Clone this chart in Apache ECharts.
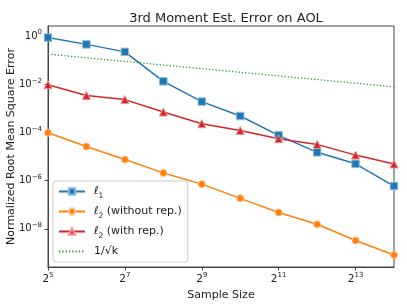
<!DOCTYPE html>
<html>
<head>
<meta charset="utf-8">
<script src="https://cdn.jsdelivr.net/npm/echarts@6/dist/echarts.min.js"></script>
<style>html,body{margin:0;padding:0;background:#fff;}#c{width:407px;height:305px;}</style>
</head>
<body>
<div id="c"></div>
<script>
const sampleSizes = [32, 64, 128, 256, 512, 1024, 2048, 4096, 8192, 16384];
const l1Err = [0.86, 0.45, 0.22, 0.0132, 0.0019, 4.8e-4, 7.6e-5, 1.5e-5, 5.0e-6, 6.0e-7];
const l2WithoutRep = [9.7e-5, 2.6e-5, 7.5e-6, 2.1e-6, 7.2e-7, 1.85e-7, 4.8e-8, 1.55e-8, 3.3e-9, 8.3e-10];
const l2WithRep = [9.6e-3, 3.4e-3, 2.3e-3, 7.0e-4, 2.3e-4, 1.2e-4, 5.5e-5, 3.2e-5, 1.15e-5, 4.9e-6];
const invSqrtK = [0.177, 0.125, 0.0884, 0.0625, 0.0442, 0.0313, 0.0221, 0.0156, 0.011, 0.0078];
const seriesNames = ['ℓ1', 'ℓ2 (without rep.)', 'ℓ2 (with rep.)', '1/√k'];
const xTicks = [32, 128, 512, 2048, 8192];
const yTicks = [1e-8, 1e-6, 1e-4, 1e-2, 1];

const FONT = 'DejaVu Sans';
const pairs = arr => sampleSizes.map((k, i) => [k, arr[i]]);
const sup = {fontSize: 7, fontFamily: FONT, color: '#222', verticalAlign: 'bottom', padding: [0, 0, 7, 0]};

const chart = echarts.init(document.getElementById('c'), null, {renderer: 'canvas'});
chart.setOption({
  animation: false,
  backgroundColor: '#fff',
  title: {
    text: '3rd Moment Est. Error on AOL',
    left: 221, top: 7, textAlign: 'center',
    textStyle: {fontFamily: FONT, fontSize: 13, fontWeight: 'normal', color: '#222'}
  },
  grid: {left: 48, right: 13, top: 26, bottom: 38, outerBoundsMode: 'none', containLabel: false,
    show: true, borderColor: '#444', borderWidth: 1, backgroundColor: 'transparent'},
  legend: {
    orient: 'vertical', left: 53, top: 181,
    itemWidth: 26, itemHeight: 8, itemGap: 6,
    padding: [5, 6, 5, 5],
    backgroundColor: 'rgba(255,255,255,0.85)', borderColor: '#ccc', borderWidth: 1, borderRadius: 3,
    data: [
      {name: seriesNames[0]},
      {name: seriesNames[1]},
      {name: seriesNames[2]},
      {name: seriesNames[3], itemStyle: {opacity: 0}}
    ],
    formatter: function (n) {
      if (n === seriesNames[0]) return 'ℓ{sb|1}';
      if (n === seriesNames[1]) return 'ℓ{sb|2} (without rep.)';
      if (n === seriesNames[2]) return 'ℓ{sb|2} (with rep.)';
      return n;
    },
    textStyle: {
      fontFamily: FONT, fontSize: 11, color: '#222', padding: [0, 0, 0, 4],
      rich: {sb: {fontSize: 7.5, fontFamily: FONT, color: '#222', verticalAlign: 'bottom', padding: [0, 0, -3, 0]}}
    }
  },
  xAxis: {
    type: 'log', logBase: 2, min: 32, max: 16384,
    name: 'Sample Size', nameLocation: 'middle', nameGap: 19,
    nameTextStyle: {fontFamily: FONT, fontSize: 11, color: '#222'},
    axisLine: {show: true, lineStyle: {color: '#444', width: 1}},
    axisTick: {show: true, length: 3.5, lineStyle: {color: '#444'}, customValues: xTicks},
    minorTick: {show: false},
    splitLine: {show: false},
    axisLabel: {
      margin: 5, fontFamily: FONT, fontSize: 10.5, color: '#222',
      customValues: xTicks,
      formatter: v => '2{s|' + Math.round(Math.log2(v)) + '}',
      rich: {s: sup}
    }
  },
  yAxis: {
    type: 'log', logBase: 10, min: Math.pow(10, -9.58), max: Math.pow(10, 0.415),
    name: 'Normalized Root Mean Square Error', nameLocation: 'middle', nameGap: 31,
    nameMoveOverlap: false,
    nameTextStyle: {fontFamily: FONT, fontSize: 11, color: '#222'},
    axisLine: {show: true, lineStyle: {color: '#444', width: 1}},
    axisTick: {show: true, length: 3.5, lineStyle: {color: '#444'}, customValues: yTicks},
    splitLine: {show: false},
    axisLabel: {
      margin: 6, fontFamily: FONT, fontSize: 10, color: '#222',
      customValues: yTicks,
      formatter: v => {
        const n = Math.round(Math.log10(v));
        return '10{s|' + (n < 0 ? '\u2212' + (-n) : n) + '}';
      },
      rich: {s: {fontSize: 7, fontFamily: FONT, color: '#222', verticalAlign: 'bottom', padding: [0, 0, 7, 0]}}
    }
  },
  series: [
    {
      name: seriesNames[0], type: 'line', data: pairs(l1Err),
      symbol: 'rect', symbolSize: 7.5,
      lineStyle: {color: '#1f77b4', width: 1.5},
      itemStyle: {color: '#1f77b4', borderColor: '#8fbbd9', borderWidth: 1}
    },
    {
      name: seriesNames[1], type: 'line', data: pairs(l2WithoutRep),
      symbol: 'circle', symbolSize: 7,
      lineStyle: {color: '#ff7f0e', width: 1.5},
      itemStyle: {color: '#ff7f0e', borderColor: '#ffbf86', borderWidth: 1}
    },
    {
      name: seriesNames[2], type: 'line', data: pairs(l2WithRep),
      symbol: 'triangle', symbolSize: 8,
      lineStyle: {color: '#d62728', width: 1.5},
      itemStyle: {color: '#d62728', borderColor: '#ea9393', borderWidth: 1}
    },
    {
      name: seriesNames[3], type: 'line', data: pairs(invSqrtK),
      symbol: 'none', showSymbol: false,
      lineStyle: {color: '#2ca02c', width: 1.3, type: [1.3, 2]},
      itemStyle: {color: '#2ca02c'}
    }
  ]
});
</script>
</body>
</html>
